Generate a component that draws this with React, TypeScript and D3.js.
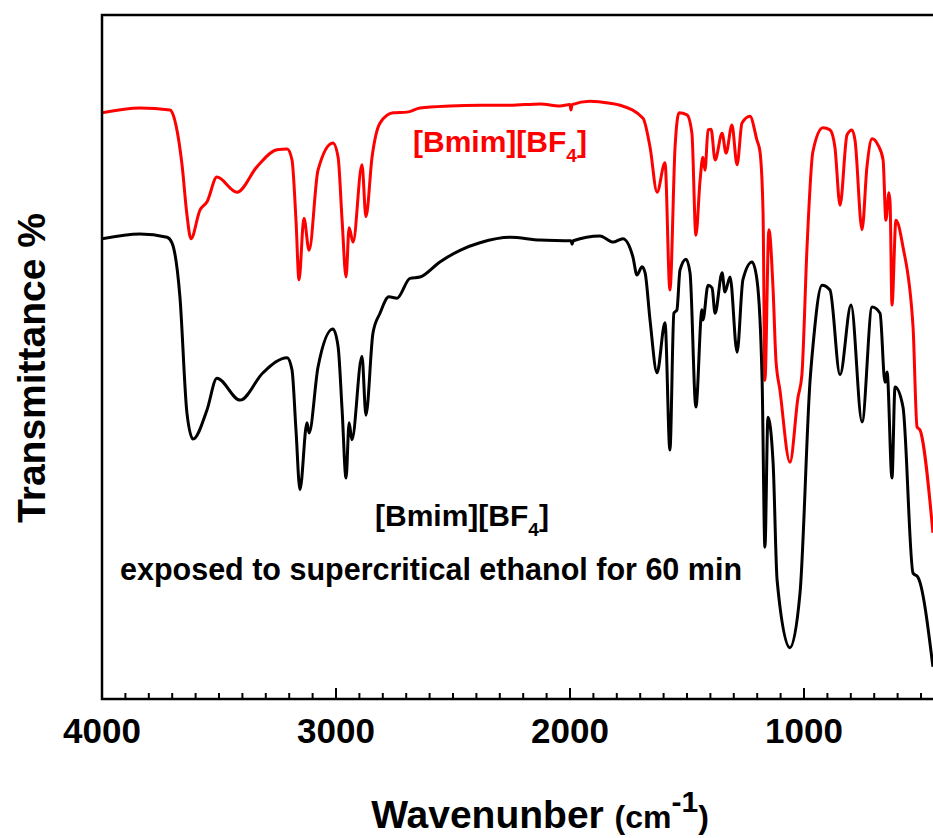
import { useRef, useEffect } from 'react'
import * as d3 from 'd3'

// FTIR spectra, [wavenumber (cm-1), transmittance (arb. %)]
const pristineSpectrum: [number, number][] = [
  [4000, 85.7], [3838, 86.4], [3709, 86.1], [3701, 85.8], [3684, 83.9], [3658, 78.1],
  [3637, 70.8], [3620, 67.3], [3581, 71.5], [3551, 72.7], [3509, 76.3], [3423, 74.1],
  [3338, 77.8], [3252, 80.3], [3209, 80.4], [3188, 78.8], [3171, 70.0], [3158, 61.3],
  [3137, 70.3], [3115, 65.6], [3077, 77.3], [3013, 81.3], [2991, 79.2], [2974, 70.0],
  [2957, 61.7], [2944, 68.9], [2927, 66.8], [2889, 78.1], [2872, 70.5], [2846, 79.2],
  [2812, 84.2], [2756, 85.7], [2697, 85.8], [2641, 86.4], [2513, 86.7], [2385, 86.8],
  [2256, 86.8], [2128, 87.0], [2043, 86.7], [2000, 86.9], [1996, 86.1], [1991, 86.9],
  [1915, 87.4], [1829, 87.1], [1786, 86.8], [1688, 84.9], [1658, 80.7], [1628, 74.1],
  [1594, 78.4], [1573, 59.8], [1551, 80.7], [1534, 85.7], [1500, 85.4], [1479, 82.7],
  [1462, 67.8], [1444, 75.9], [1432, 79.2], [1423, 77.3], [1410, 83.2], [1397, 83.3],
  [1380, 78.8], [1350, 82.7], [1333, 79.8], [1308, 83.9], [1286, 78.1], [1265, 84.2],
  [1231, 85.2], [1201, 81.7], [1188, 80.0], [1175, 71.1], [1167, 46.6], [1150, 68.6],
  [1132, 59.8], [1120, 49.6], [1103, 45.2], [1060, 34.6], [1026, 44.0], [1009, 47.4],
  [987, 66.1], [962, 80.0], [919, 83.5], [889, 83.2], [868, 80.7], [846, 72.2],
  [816, 82.5], [795, 83.2], [782, 81.7], [752, 68.6], [731, 77.8], [709, 81.9],
  [684, 81.0], [662, 78.8], [650, 70.0], [637, 74.0], [632, 72.5], [624, 57.6],
  [607, 70.0], [577, 66.1], [534, 54.4], [517, 39.8], [504, 39.3], [449, 24.3],
]

const exposedSpectrum: [number, number][] = [
  [4000, 67.3], [3838, 68.0], [3722, 67.5], [3701, 66.7], [3667, 58.8], [3637, 41.8],
  [3611, 38.0], [3551, 42.3], [3509, 46.9], [3410, 43.7], [3312, 47.7], [3209, 49.9],
  [3188, 48.1], [3171, 39.3], [3154, 30.6], [3124, 40.4], [3115, 38.9], [3077, 48.5],
  [3013, 54.1], [2991, 51.5], [2974, 42.3], [2957, 32.3], [2944, 40.4], [2932, 37.9],
  [2889, 50.1], [2872, 41.5], [2842, 53.5], [2812, 56.4], [2774, 58.8], [2739, 58.6],
  [2684, 61.5], [2641, 61.7], [2556, 63.9], [2470, 65.6], [2385, 66.7], [2256, 67.5],
  [2128, 67.1], [1996, 67.0], [1991, 66.5], [1986, 67.0], [1872, 67.7], [1816, 66.8],
  [1774, 67.3], [1731, 64.6], [1714, 62.0], [1692, 63.2], [1679, 62.3], [1658, 55.4],
  [1628, 47.7], [1594, 55.0], [1573, 36.4], [1556, 56.4], [1543, 56.9], [1530, 62.7],
  [1504, 64.3], [1487, 62.3], [1462, 42.7], [1436, 56.9], [1432, 55.4], [1410, 60.5],
  [1393, 60.1], [1380, 56.4], [1350, 62.3], [1338, 59.5], [1316, 61.7], [1286, 50.7],
  [1261, 61.3], [1222, 63.9], [1201, 61.3], [1179, 46.6], [1167, 22.2], [1154, 41.2],
  [1132, 34.5], [1115, 17.4], [1060, 7.5], [1017, 15.5], [974, 46.6], [962, 51.5],
  [923, 60.5], [889, 59.8], [846, 47.4], [799, 57.6], [752, 40.5], [709, 57.3],
  [675, 56.4], [654, 46.3], [645, 47.8], [624, 32.3], [611, 45.6], [577, 42.7],
  [534, 18.4], [513, 17.8], [449, 4.7],
]

const majorTicks = [4000, 3000, 2000, 1000]
const minorStep = 100

const W = 933
const H = 838
const FONT = "'Liberation Sans', Arial, sans-serif"

function Spectra() {
  const svgRef = useRef<SVGSVGElement | null>(null)

  useEffect(() => {
    const svg = svgRef.current
    if (!svg) return
    const margin = { top: 15, left: 102, bottom: 699 }

    const sel = d3.select(svg)
    sel.selectAll('*').remove()

    const x = d3.scaleLinear().domain([4000, 400]).range([margin.left, margin.left + 3600 * 0.234])
    const y = d3.scaleLinear().domain([0, 100]).range([margin.bottom, margin.top])

    const line = d3
      .line<[number, number]>()
      .x((d) => x(d[0]))
      .y((d) => y(d[1]))
      .curve(d3.curveMonotoneX)

    const plot = sel.append('g')
    plot.append('clipPath').attr('id', 'plot-clip')
      .append('rect').attr('x', margin.left).attr('y', margin.top).attr('width', W - margin.left).attr('height', margin.bottom - margin.top)

    const curves = plot.append('g').attr('clip-path', 'url(#plot-clip)')
    curves.append('path').datum(pristineSpectrum)
      .attr('d', line).attr('fill', 'none').attr('stroke', '#ff0000').attr('stroke-width', 3).attr('stroke-linejoin', 'round')
    curves.append('path').datum(exposedSpectrum)
      .attr('d', line).attr('fill', 'none').attr('stroke', '#000').attr('stroke-width', 3).attr('stroke-linejoin', 'round')

    // frame: top, left, bottom (right side is cut off in the original)
    const frame = sel.append('g').attr('stroke', '#000').attr('stroke-width', 2.5).attr('fill', 'none')
    frame.append('path').attr('d', `M${W},${margin.top}H${margin.left}V${margin.bottom}H${W}`)

    // ticks every 100, pointing inward
    const ticks = d3.range(4000, 400, -minorStep).filter((t) => x(t) < W)
    ticks.forEach((t) => {
      const major = majorTicks.includes(t)
      frame.append('line')
        .attr('x1', x(t)).attr('x2', x(t))
        .attr('y1', margin.bottom).attr('y2', margin.bottom - (major ? 11 : 6))
        .attr('stroke-width', 2)
    })

    majorTicks.forEach((t) => {
      sel.append('text')
        .attr('x', x(t)).attr('y', 743)
        .attr('text-anchor', 'middle')
        .attr('font-family', FONT).attr('font-weight', 'bold').attr('font-size', 35)
        .text(t)
    })

    // axis titles
    const xt = sel.append('text')
      .attr('x', 540).attr('y', 828)
      .attr('text-anchor', 'middle')
      .attr('font-family', FONT).attr('font-weight', 'bold')
    xt.append('tspan').attr('font-size', 39).text('Wavenunber ')
    xt.append('tspan').attr('font-size', 32).text('(cm')
    xt.append('tspan').attr('font-size', 30).attr('dy', -16).text('-1')
    xt.append('tspan').attr('font-size', 32).attr('dy', 16).text(')')

    sel.append('text')
      .attr('transform', 'translate(45,368) rotate(-90)')
      .attr('text-anchor', 'middle')
      .attr('font-family', FONT).attr('font-weight', 'bold').attr('font-size', 39)
      .text('Transmittance %')

    // annotations
    const label = (lx: number, ly: number, color: string) => {
      const t = sel.append('text')
        .attr('x', lx).attr('y', ly)
        .attr('font-family', FONT).attr('font-weight', 'bold').attr('font-size', 30)
        .attr('fill', color)
      t.append('tspan').text('[Bmim][BF')
      t.append('tspan').attr('font-size', 19).attr('dy', 10).text('4')
      t.append('tspan').attr('dy', -10).text(']')
    }
    label(413, 152, '#ff0000')
    label(375, 526, '#000')

    sel.append('text')
      .attr('x', 120).attr('y', 580)
      .attr('font-family', FONT).attr('font-weight', 'bold').attr('font-size', 30.5)
      .text('exposed to supercritical ethanol for 60 min')
  }, [])

  return (
    <svg
      ref={svgRef}
      width={W}
      height={H}
      style={{ position: 'absolute', left: 0, top: 0, background: '#fff' }}
    />
  )
}

export default function App() {
  return <Spectra />
}
